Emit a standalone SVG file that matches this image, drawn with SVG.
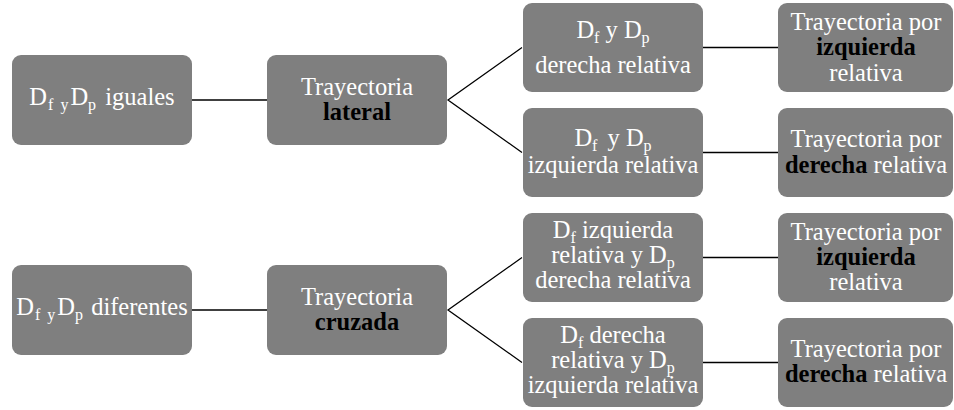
<svg xmlns="http://www.w3.org/2000/svg" width="954" height="410" viewBox="0 0 954 410">
  <defs>
    <style>
      .box { fill: #7f7f7f; }
      .b { font-weight: bold; fill: #000000; }
      .edge { stroke: #000000; stroke-width: 1.3; fill: none; }
    </style>
  </defs>
  <rect width="954" height="410" fill="#ffffff"/>

  <!-- connectors -->
  <g id="connectors">
    <line class="edge" x1="192" y1="100" x2="267" y2="100"/>
    <polyline class="edge" points="522,47.5 448,100 522,152.5"/>
    <line class="edge" x1="703" y1="47.5" x2="778" y2="47.5"/>
    <line class="edge" x1="703" y1="152.5" x2="778" y2="152.5"/>
    <line class="edge" x1="192" y1="310" x2="267" y2="310"/>
    <polyline class="edge" points="522,257.5 448,310 522,362.5"/>
    <line class="edge" x1="703" y1="257.5" x2="778" y2="257.5"/>
    <line class="edge" x1="703" y1="362.5" x2="778" y2="362.5"/>
  </g>

  <!-- all labels: white serif, centred; subscripts at 16px -->
  <g font-family="Liberation Serif" font-size="24.5" fill="#ffffff" text-anchor="middle">
  <!-- upper branch -->
  <g id="node-iguales">
    <rect class="box" x="12" y="55" width="180" height="90" rx="9"/>
    <text font-family="Liberation Serif" x="102" y="105">D<tspan font-size="16" dy="5" dx="1">f</tspan><tspan font-size="16" dx="7">y</tspan><tspan dy="-5" dx="2">D</tspan><tspan font-size="16" dy="5">p</tspan><tspan dy="-5" dx="3"> iguales</tspan></text>
  </g>
  <g id="node-lateral">
    <rect class="box" x="267" y="55" width="180" height="90" rx="9"/>
    <text font-family="Liberation Serif" x="357" y="95">Trayectoria</text>
    <text font-family="Liberation Serif" x="357" y="120"><tspan class="b">lateral</tspan></text>
  </g>
  <g id="node-derecha-rel">
    <rect class="box" x="523" y="3" width="180" height="89" rx="9"/>
    <text font-family="Liberation Serif" x="613" y="38">D<tspan font-size="16" dy="5">f</tspan><tspan dy="-5"> y D</tspan><tspan font-size="16" dy="5">p</tspan></text>
    <text font-family="Liberation Serif" x="613" y="73">derecha relativa</text>
  </g>
  <g id="node-izquierda-rel">
    <rect class="box" x="523" y="108" width="180" height="89" rx="9"/>
    <text font-family="Liberation Serif" x="613" y="146">D<tspan font-size="16" dy="5">f</tspan><tspan dy="-5" dx="4"> y D</tspan><tspan font-size="16" dy="5">p</tspan></text>
    <text font-family="Liberation Serif" x="613" y="173">izquierda relativa</text>
  </g>
  <g id="node-por-izquierda-1">
    <rect class="box" x="778" y="3" width="175" height="89" rx="9"/>
    <text font-family="Liberation Serif" x="866" y="30">Trayectoria por</text>
    <text font-family="Liberation Serif" x="866" y="55"><tspan class="b">izquierda</tspan></text>
    <text font-family="Liberation Serif" x="866" y="81">relativa</text>
  </g>
  <g id="node-por-derecha-1">
    <rect class="box" x="778" y="108" width="175" height="89" rx="9"/>
    <text font-family="Liberation Serif" x="866" y="147">Trayectoria por</text>
    <text font-family="Liberation Serif" x="866" y="173"><tspan class="b">derecha</tspan> relativa</text>
  </g>

  <!-- lower branch -->
  <g id="node-diferentes">
    <rect class="box" x="12" y="265" width="180" height="90" rx="9"/>
    <text font-family="Liberation Serif" x="102" y="315">D<tspan font-size="16" dy="5" dx="1">f</tspan><tspan font-size="16" dx="7">y</tspan><tspan dy="-5" dx="2">D</tspan><tspan font-size="16" dy="5">p</tspan><tspan dy="-5" dx="2"> diferentes</tspan></text>
  </g>
  <g id="node-cruzada">
    <rect class="box" x="267" y="265" width="180" height="90" rx="9"/>
    <text font-family="Liberation Serif" x="357" y="305">Trayectoria</text>
    <text font-family="Liberation Serif" x="357" y="330"><tspan class="b">cruzada</tspan></text>
  </g>
  <g id="node-fizq-pder">
    <rect class="box" x="523" y="213" width="180" height="89" rx="9"/>
    <text font-family="Liberation Serif" x="613" y="238">D<tspan font-size="16" dy="5">f</tspan><tspan dy="-5"> izquierda</tspan></text>
    <text font-family="Liberation Serif" x="613" y="263">relativa y D<tspan font-size="16" dy="5">p</tspan></text>
    <text font-family="Liberation Serif" x="613" y="288">derecha relativa</text>
  </g>
  <g id="node-fder-pizq">
    <rect class="box" x="523" y="318" width="180" height="89" rx="9"/>
    <text font-family="Liberation Serif" x="613" y="343">D<tspan font-size="16" dy="5">f</tspan><tspan dy="-5"> derecha</tspan></text>
    <text font-family="Liberation Serif" x="613" y="368">relativa y D<tspan font-size="16" dy="5">p</tspan></text>
    <text font-family="Liberation Serif" x="613" y="393">izquierda relativa</text>
  </g>
  <g id="node-por-izquierda-2">
    <rect class="box" x="778" y="213" width="175" height="89" rx="9"/>
    <text font-family="Liberation Serif" x="866" y="240">Trayectoria por</text>
    <text font-family="Liberation Serif" x="866" y="265"><tspan class="b">izquierda</tspan></text>
    <text font-family="Liberation Serif" x="866" y="290">relativa</text>
  </g>
  <g id="node-por-derecha-2">
    <rect class="box" x="778" y="318" width="175" height="89" rx="9"/>
    <text font-family="Liberation Serif" x="866" y="357">Trayectoria por</text>
    <text font-family="Liberation Serif" x="866" y="382"><tspan class="b">derecha</tspan> relativa</text>
  </g>
  </g>
</svg>
